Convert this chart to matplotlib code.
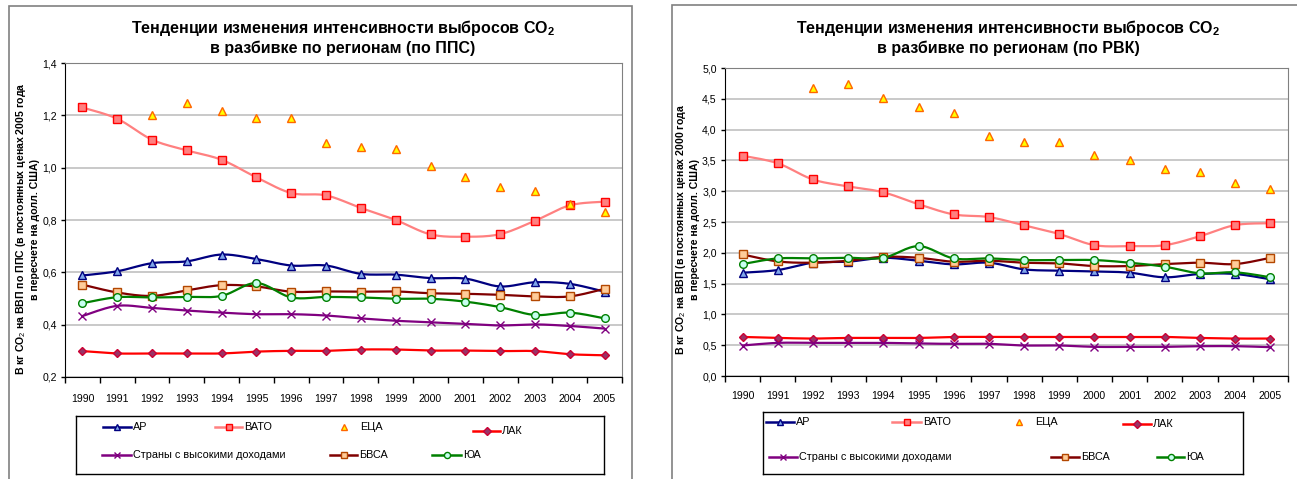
import numpy as np
import matplotlib
matplotlib.use('Agg')
import matplotlib.pyplot as plt
from matplotlib.patches import Rectangle

plt.rcParams['font.family'] = ['Liberation Sans', 'DejaVu Sans']
plt.rcParams['mathtext.fontset'] = 'custom'
plt.rcParams['mathtext.rm'] = 'Liberation Sans'
plt.rcParams['mathtext.bf'] = 'Liberation Sans:bold'

nan = np.nan

# Data
years = ['1990', '1991', '1992', '1993', '1994', '1995', '1996', '1997',
         '1998', '1999', '2000', '2001', '2002', '2003', '2004', '2005']
names = ['АР', 'ВАТО', 'ЕЦА', 'ЛАК', 'Страны с высокими доходами', 'БВСА', 'ЮА']

# by PPP (left chart)
ppp_ar = [0.588, 0.604, 0.635, 0.642, 0.668, 0.651, 0.626, 0.626, 0.594, 0.591, 0.578, 0.576, 0.546, 0.562, 0.556, 0.526]
ppp_vato = [1.230, 1.187, 1.107, 1.066, 1.030, 0.963, 0.903, 0.894, 0.846, 0.800, 0.745, 0.736, 0.746, 0.797, 0.856, 0.870]
ppp_eca = [nan, nan, 1.203, 1.247, 1.217, 1.190, 1.189, 1.094, 1.079, 1.071, 1.008, 0.966, 0.928, 0.912, 0.862, 0.832]
ppp_lak = [0.299, 0.290, 0.290, 0.290, 0.290, 0.297, 0.300, 0.300, 0.305, 0.305, 0.301, 0.301, 0.299, 0.299, 0.287, 0.283]
ppp_high = [0.433, 0.472, 0.464, 0.454, 0.446, 0.440, 0.440, 0.435, 0.424, 0.415, 0.409, 0.403, 0.397, 0.401, 0.395, 0.385]
ppp_bvsa = [0.553, 0.523, 0.510, 0.531, 0.551, 0.546, 0.526, 0.527, 0.526, 0.527, 0.520, 0.518, 0.514, 0.508, 0.508, 0.537]
ppp_ua = [0.482, 0.505, 0.504, 0.506, 0.510, 0.559, 0.504, 0.506, 0.504, 0.499, 0.499, 0.488, 0.467, 0.437, 0.446, 0.424]

# by market exchange rate (right chart)
mer_ar = [1.677, 1.720, 1.839, 1.855, 1.919, 1.871, 1.812, 1.839, 1.731, 1.710, 1.699, 1.677, 1.602, 1.656, 1.656, 1.570]
mer_vato = [3.576, 3.453, 3.190, 3.078, 2.982, 2.789, 2.623, 2.580, 2.446, 2.305, 2.124, 2.108, 2.124, 2.270, 2.450, 2.480]
mer_eca = [nan, nan, 4.673, 4.738, 4.513, 4.363, 4.277, 3.903, 3.795, 3.795, 3.587, 3.506, 3.357, 3.314, 3.130, 3.035]
mer_lak = [0.634, 0.618, 0.608, 0.618, 0.618, 0.618, 0.634, 0.634, 0.634, 0.634, 0.634, 0.634, 0.634, 0.618, 0.608, 0.608]
mer_high = [0.495, 0.538, 0.538, 0.538, 0.538, 0.527, 0.522, 0.522, 0.495, 0.495, 0.473, 0.473, 0.473, 0.484, 0.484, 0.468]
mer_bvsa = [1.973, 1.860, 1.839, 1.871, 1.935, 1.919, 1.855, 1.871, 1.839, 1.828, 1.785, 1.785, 1.817, 1.839, 1.817, 1.919]
mer_ua = [1.817, 1.909, 1.909, 1.919, 1.919, 2.108, 1.909, 1.909, 1.882, 1.882, 1.882, 1.839, 1.774, 1.667, 1.683, 1.602]

left_yticks = [0.2, 0.4, 0.6, 0.8, 1.0, 1.2, 1.4]
right_yticks = [0.0, 0.5, 1.0, 1.5, 2.0, 2.5, 3.0, 3.5, 4.0, 4.5, 5.0]

# styles: line colour, marker, face, edge, size, has line
styles = {
    'АР': ('#000080', '^', '#7FA6EA', '#000080', 5.5, True),
    'ВАТО': ('#FF8080', 's', '#FF8080', '#FF0000', 5.5, True),
    'ЕЦА': (None, '^', '#FFFF00', '#FF6600', 5.5, False),
    'ЛАК': ('#FF0000', 'D', '#993366', '#CC0033', 4.5, True),
    'Страны с высокими доходами': ('#800080', 'x', '#800080', '#800080', 5.5, True),
    'БВСА': ('#800000', 's', '#FFCC99', '#B34700', 5.5, True),
    'ЮА': ('#008000', 'o', '#C8FFF0', '#008000', 5.5, True),
}

W, H = 1297, 479


def smooth(y, steps=16):
    # Catmull-Rom curve like Excel "smoothed line"
    y = np.asarray(y, float)
    x = np.arange(len(y), dtype=float)
    xs, ys = [], []
    n = len(y)
    for i in range(n - 1):
        i0, i3 = max(i - 1, 0), min(i + 2, n - 1)
        t = np.linspace(0, 1, steps, endpoint=False)
        bx = [x[i], x[i] + (x[i + 1] - x[i0]) / 6, x[i + 1] - (x[i3] - x[i]) / 6, x[i + 1]]
        by = [y[i], y[i] + (y[i + 1] - y[i0]) / 6, y[i + 1] - (y[i3] - y[i]) / 6, y[i + 1]]
        for b, out in ((bx, xs), (by, ys)):
            out.extend((1 - t) ** 3 * b[0] + 3 * (1 - t) ** 2 * t * b[1]
                       + 3 * (1 - t) * t ** 2 * b[2] + t ** 3 * b[3])
    xs.append(x[-1])
    ys.append(y[-1])
    return xs, ys


def px_axes(x0, y0, x1, y1):
    return fig.add_axes([x0 / W, 1 - y1 / H, (x1 - x0) / W, (y1 - y0) / H])


def draw_chart(box, data, yticks, title, ylabel, ylab_x, title_x, label_pad):
    ax = px_axes(*box)
    x = np.arange(len(years))
    for name, vals in zip(names, data):
        col, mk, fc, ec, ms, has_line = styles[name]
        if has_line:
            sx, sy = smooth(vals)
            ax.plot(sx, sy, color=col, lw=1.6, zorder=3, solid_capstyle='round')
        ax.plot(x, vals, ls='none', marker=mk, ms=ms, mfc=fc, mec=ec, mew=1.0, zorder=4)
    ax.set_xlim(-0.5, len(years) - 0.5)
    ax.set_ylim(yticks[0], yticks[-1])
    ax.set_yticks(yticks)
    ax.set_yticklabels([('%.1f' % v).replace('.', ',') for v in yticks])
    ax.set_xticks(x)
    ax.set_xticklabels(years)
    ax.set_xticks(np.arange(-0.5, len(years)), minor=True)
    ax.tick_params(axis='x', which='major', length=0, pad=label_pad, labelsize=7.6)
    ax.tick_params(axis='x', which='minor', length=4, width=1, direction='out')
    ax.tick_params(axis='y', length=3, width=1, pad=3, labelsize=7.6)
    ax.yaxis.grid(True, color='#C0C0C0', lw=1.2)
    ax.set_axisbelow(True)
    for s in ('top', 'right'):
        ax.spines[s].set_color('#808080')
    for s in ('left', 'bottom'):
        ax.spines[s].set_color('black')
    fig.text(title_x / W, 1 - 28 / H, r'Тенденции изменения интенсивности выбросов CO$_\mathbf{2}$',
             ha='center', va='center', fontsize=11.5, fontweight='bold')
    fig.text(title_x / W, 1 - 48 / H, title, ha='center', va='center',
             fontsize=11.5, fontweight='bold')
    fig.text(ylab_x / W, 1 - 229 / H, ylabel, rotation=90, ha='center', va='center',
             fontsize=7.6, fontweight='bold', multialignment='center', linespacing=1.2)
    return ax


def draw_legend(box, entries):
    lg = px_axes(*box)
    lg.set_xlim(box[0], box[2])
    lg.set_ylim(box[3], box[1])
    lg.set_xticks([])
    lg.set_yticks([])
    for s in lg.spines.values():
        s.set_color('black')
        s.set_linewidth(1)
    for name, (hx0, hx1, hy) in zip(names, entries):
        col, mk, fc, ec, ms, has_line = styles[name]
        if has_line:
            lg.plot([hx0, hx1], [hy, hy], color=col, lw=1.8)
        lg.plot([(hx0 + hx1) / 2], [hy], ls='none', marker=mk, ms=ms * 0.8,
                mfc=fc, mec=ec, mew=1.0)
        lg.text(hx1 + 2, hy, name, ha='left', va='center', fontsize=7.8)


fig = plt.figure(figsize=(W / 100, H / 100), dpi=100)

# panel frames
fig.add_artist(Rectangle((9 / W, -0.05), 623 / W, 1.05 - 6 / H, transform=fig.transFigure,
                         fill=False, ec='#808080', lw=1.2))
fig.add_artist(Rectangle((672 / W, -0.05), 700 / W, 1.05 - 5 / H, transform=fig.transFigure,
                         fill=False, ec='#808080', lw=1.2))

draw_chart((65, 63, 622, 377),
           [ppp_ar, ppp_vato, ppp_eca, ppp_lak, ppp_high, ppp_bvsa, ppp_ua],
           left_yticks, 'в разбивке по регионам (по ППС)',
           'В кг CO$_2$ на ВВП по ППС (в постоянных ценах 2005 года\nв пересчете на долл. США)',
           27, 343, 12)
draw_chart((725, 68, 1288, 376),
           [mer_ar, mer_vato, mer_eca, mer_lak, mer_high, mer_bvsa, mer_ua],
           right_yticks, 'в разбивке по регионам (по РВК)',
           'В кг CO$_2$ на ВВП (в постоянных ценах 2000 года\nв пересчете на долл. США)',
           687, 1008, 11)

draw_legend((76, 416, 604, 474),
            [(103, 131, 427), (215, 242, 427), (330, 358, 427), (473, 500, 431),
             (102, 131, 455), (330, 357, 455), (432, 461, 455)])
draw_legend((763, 412, 1243, 474),
            [(766, 794, 422), (892, 921, 422), (1005, 1033, 422), (1123, 1151, 424),
             (769, 797, 457), (1051, 1079, 457), (1157, 1184, 457)])

fig.savefig('out.png', dpi=100)
